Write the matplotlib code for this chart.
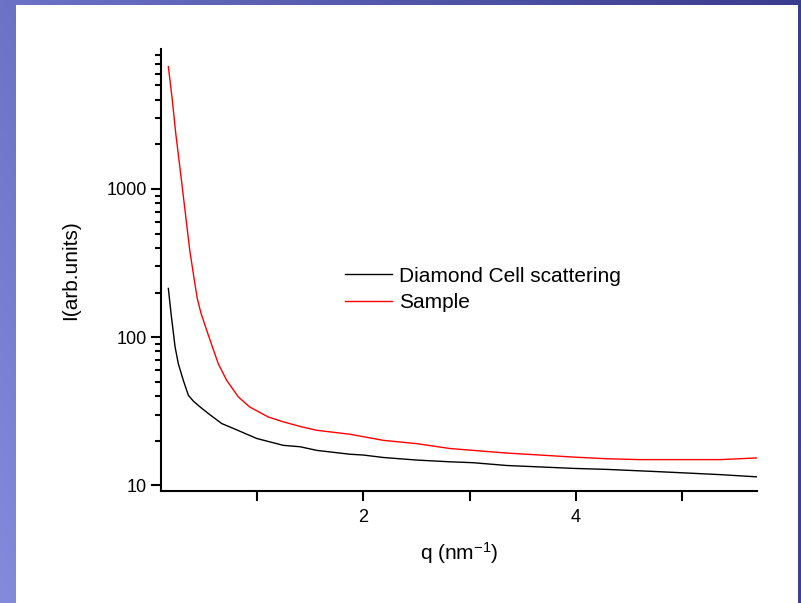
import numpy as np
import matplotlib
matplotlib.use('Agg')
import matplotlib.pyplot as plt
from matplotlib.patches import Rectangle
from matplotlib.ticker import LogLocator, NullFormatter, FixedLocator, FuncFormatter

plt.rcParams['font.family'] = ['Liberation Sans', 'DejaVu Sans']
plt.rcParams['mathtext.default'] = 'regular'

# values
q_cell = [0.166, 0.191, 0.229, 0.260, 0.307, 0.354, 0.401, 0.464, 0.542, 0.668,
          0.777, 0.997, 1.247, 1.405, 1.562, 1.875, 2.0, 2.188, 2.502, 2.816,
          3.035, 3.349, 3.662, 3.976, 4.290, 4.728, 5.042, 5.356, 5.701]
i_cell = [213, 145, 86, 66, 51, 40.5, 37.0, 33.8, 30.5, 26.1,
          24.2, 20.7, 18.6, 18.2, 17.2, 16.2, 16.0, 15.4, 14.8, 14.4,
          14.2, 13.6, 13.3, 13.0, 12.8, 12.4, 12.1, 11.8, 11.4]

q_sample = [0.166, 0.203, 0.235, 0.292, 0.367, 0.410, 0.438, 0.473, 0.527, 0.580,
            0.636, 0.715, 0.824, 0.93, 1.106, 1.247, 1.420, 1.562, 1.875, 2.188,
            2.502, 2.816, 3.035, 3.349, 3.662, 3.976, 4.290, 4.603, 5.042, 5.356, 5.701]
i_sample = [6700, 3990, 2390, 1100, 387, 243, 182, 145, 111, 86,
            66, 51, 39.5, 33.8, 28.9, 26.8, 24.8, 23.5, 22.1, 20.1,
            19.1, 17.7, 17.2, 16.5, 16.0, 15.5, 15.1, 14.9, 14.9, 14.9, 15.3]

labels = ['Diamond Cell scattering', 'Sample']
x_ticks = [1, 2, 3, 4, 5]
x_ticklabels = ['', '2', '', '4', '']

W, H = 801, 603
fig = plt.figure(figsize=(W / 100, H / 100), dpi=100)

# blue gradient slide background
bg = fig.add_axes([0, 0, 1, 1], zorder=-10)
u = np.linspace(0, 1, 200)[None, :, None]
v = np.linspace(0, 1, 150)[:, None, None]
tl = np.array([108, 114, 198]) / 255
tr = np.array([58, 60, 142]) / 255
bl = np.array([132, 138, 220]) / 255
br = np.array([62, 64, 150]) / 255
img = (1 - v) * ((1 - u) * tl + u * tr) + v * ((1 - u) * bl + u * br)
bg.imshow(img, aspect='auto', extent=[0, 1, 0, 1], origin='upper')
bg.set_axis_off()
bg.add_patch(Rectangle((16 / W, 0), (797.5 - 16) / W, (H - 5) / H,
                       transform=bg.transAxes, facecolor='white', edgecolor='none'))

ax = fig.add_axes([160.7 / W, 112 / H, (757.3 - 160.7) / W, (554 - 112) / H])
ax.patch.set_alpha(0)
ax.plot(q_cell, i_cell, color='black', lw=1.0, label=labels[0])
ax.plot(q_sample, i_sample, color='red', lw=1.0, label=labels[1])

ax.set_yscale('log')
ax.set_xlim(0.094, 5.705)
ax.set_ylim(9.15, 8800)
ax.spines['top'].set_visible(False)
ax.spines['right'].set_visible(False)
for s in ['left', 'bottom']:
    ax.spines[s].set_linewidth(1.5)

ax.xaxis.set_major_locator(FixedLocator(x_ticks))
ax.set_xticklabels(x_ticklabels)
ax.yaxis.set_major_locator(FixedLocator([10, 100, 1000]))
ax.yaxis.set_major_formatter(FuncFormatter(lambda y, p: '%d' % y))
ax.yaxis.set_minor_locator(LogLocator(base=10, subs=np.arange(2, 10)))
ax.yaxis.set_minor_formatter(NullFormatter())
ax.tick_params(axis='both', which='major', direction='out', length=7, width=1.5,
               labelsize=13, pad=3)
ax.tick_params(axis='x', which='major', pad=6)
ax.tick_params(axis='y', which='minor', direction='out', length=4, width=1.5)

ax.set_xlabel(r'q (nm$^{-1}$)', fontsize=15, labelpad=10)
ax.set_ylabel('I(arb.units)', fontsize=15, labelpad=19)

ax.legend(loc='upper left', bbox_to_anchor=(0.292, 0.531), frameon=False, fontsize=15,
          handlelength=2.26, handletextpad=0.3, labelspacing=0.35, borderpad=0)

fig.savefig('out.png', dpi=100)
